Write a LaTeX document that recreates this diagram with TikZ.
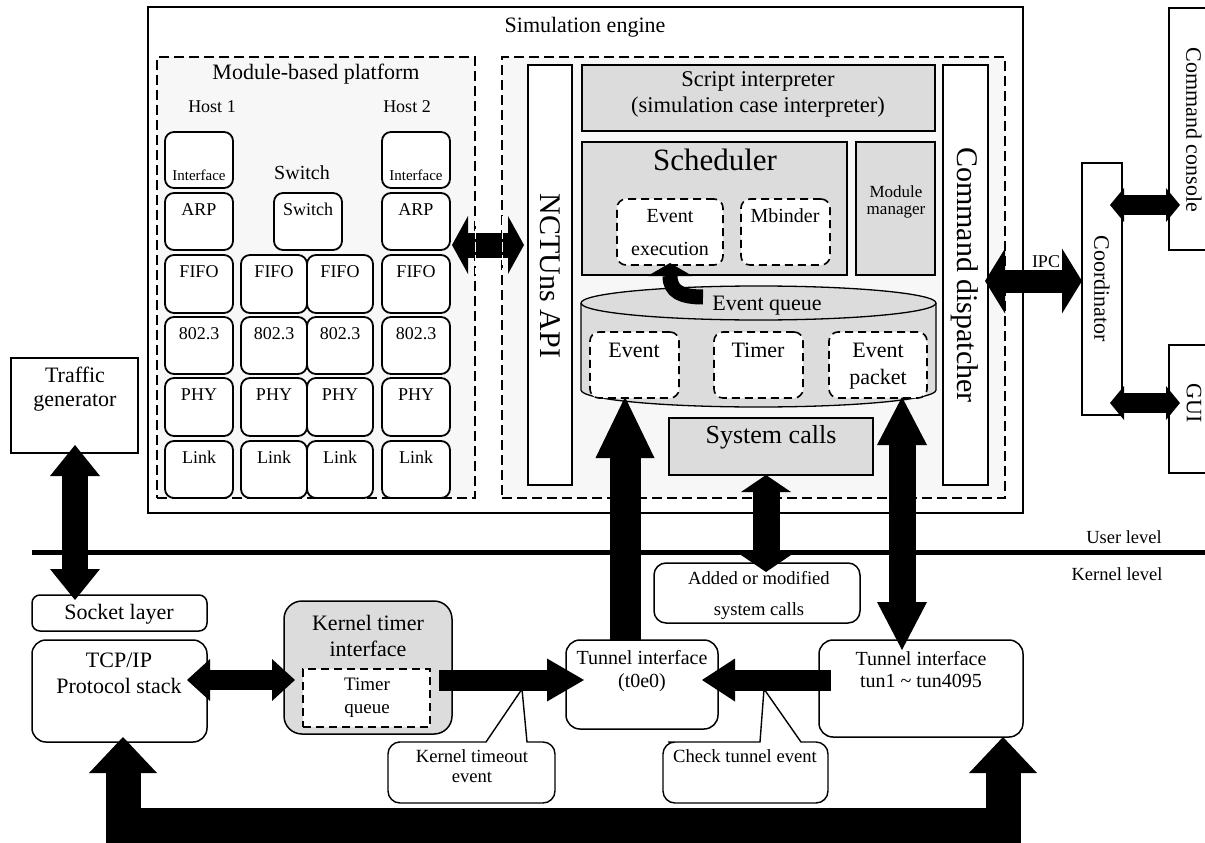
\documentclass[tikz,border=0pt]{standalone}
\usepackage{fontspec}
\setmainfont{Liberation Serif}
\usetikzlibrary{arrows.meta,fit,calc}
\definecolor{boxgray}{RGB}{220,220,220}
\definecolor{regiongray}{RGB}{247,247,247}
\newcommand\fz[2]{\fontsize{#1pt}{#2pt}\selectfont}
\newcommand\mkbox[6][]{\node[fit={(#3,#4) (#5,#6)}, inner sep=0pt, #1] (#2) {};}
\newcommand\mktext[5]{\node[txt, font=\fz{#4}{#4}] (#1) at (#2,#3) {#5};}
\tikzset{
  plain/.style={draw, line width=1.2pt},
  mbox/.style={draw, line width=1.8pt, rounded corners=9pt, fill=white},
  gbox/.style={draw, line width=1.3pt, fill=boxgray},
  dbox/.style={draw, line width=1.6pt, dash pattern=on 8pt off 5pt, rounded corners=9pt, fill=white},
  region/.style={draw, line width=1.5pt, dash pattern=on 10pt off 5pt, fill=regiongray},
  kbox/.style={draw, line width=1.5pt, rounded corners=14pt, fill=white},
  cshape/.style={draw, line width=1.4pt, fill=white},
  txt/.style={anchor=base, inner sep=0pt, align=center},
  vtxt/.style={rotate=-90, inner sep=0pt, anchor=center},
  fatarr/.style args={#1/#2/#3}{line width=#1, -{Triangle[width=#2,length=#3,line width=0pt]}},
  fatdbl/.style args={#1/#2/#3}{line width=#1, {Triangle[width=#2,length=#3,line width=0pt]}-{Triangle[width=#2,length=#3,line width=0pt]}},
}
\begin{document}
\begin{tikzpicture}[x=1pt,y=-1pt]
\useasboundingbox[fill=white] (0,0) rectangle (1205,843);

% ---------- Simulation engine ----------
\mkbox[plain, fill=white]{engine}{148}{7}{1023}{513}
\mktext{engine-t}{585}{33}{22}{Simulation engine}

% Module-based platform
\mkbox[region]{modplat}{157}{57}{475}{498}
\mktext{modplat-t}{316}{79}{22}{Module-based platform}
\mktext{host1}{212}{112}{18}{Host 1}
\mktext{host2}{407}{112}{18}{Host 2}
\mktext{switchlbl}{302}{179}{20}{Switch}
\mkbox[mbox]{h1if}{165}{132}{233}{188}
\mktext{h1if-t}{199}{180}{15}{Interface}
\mkbox[mbox]{h2if}{382}{132}{450}{188}
\mktext{h2if-t}{416}{180}{15}{Interface}
\mkbox[mbox]{h1arp}{165}{193}{233}{250}
\mktext{h1arp-t}{199}{215}{18}{ARP}
\mkbox[mbox]{sw}{274}{193}{342}{250}
\mktext{sw-t}{308}{215}{18}{Switch}
\mkbox[mbox]{h2arp}{382}{193}{450}{250}
\mktext{h2arp-t}{416}{215}{18}{ARP}
\foreach \r/\ya/\yb/\lab in {fifo/255/313/FIFO, eth/317/374/802.3, phy/378/436/PHY, link/441/498/Link} {
  \foreach \c/\xa/\xb in {1/165/233, 2/241/307, 3/307/373, 4/382/450} {
    \mkbox[mbox]{\r\c}{\xa}{\ya}{\xb}{\yb}
    \node[txt, font=\fz{18}{18}] (\r\c-t) at ({(\xa+\xb)/2},{\ya+22}) {\lab};
  }
}

% Engine core
\mkbox[region]{core}{502}{57}{1005}{498}
\mkbox[plain, fill=white]{nctuns}{528}{65}{572}{485}
\node[vtxt, font=\fz{30}{30}] (nctuns-t) at (550,276) {NCTUns API};
\mkbox[gbox]{script}{582}{65}{935}{131}
\mktext{script-t1}{758}{87}{22.5}{Script interpreter}
\mktext{script-t2}{758}{112}{22.5}{(simulation case interpreter)}
\mkbox[gbox]{sched}{582}{142}{847}{275}
\mktext{sched-t}{715}{170}{31}{Scheduler}
\mkbox[gbox]{modmgr}{856}{142}{935}{275}
\mktext{modmgr-t1}{896}{197}{17}{Module}
\mktext{modmgr-t2}{896}{214}{17}{manager}
\mkbox[plain, fill=white]{cmdd}{943}{65}{988}{485}
\node[vtxt, font=\fz{30}{30}] (cmdd-t) at (965,275) {Command dispatcher};
\mkbox[dbox]{evexec}{617}{199}{723}{265}
\mktext{evexec-t1}{670}{222}{20}{Event}
\mktext{evexec-t2}{670}{255}{20}{execution}
\mkbox[dbox]{mbinder}{741}{199}{830}{265}
\mktext{mbinder-t}{785}{222}{20}{Mbinder}

% Event queue cylinder
\path[draw, line width=1.3pt, fill=boxgray] (581,303) -- (581,390)
  arc[start angle=180, end angle=360, x radius=177.5pt, y radius=17pt] -- (936,303)
  arc[start angle=0, end angle=180, x radius=177.5pt, y radius=17pt] -- cycle;
\draw[line width=1.3pt] (581,303) arc[start angle=180, end angle=360, x radius=177.5pt, y radius=17pt];
\mktext{eq-t}{767}{310}{22}{Event queue}
\mkbox[dbox]{ev}{590}{332}{679}{398}
\mktext{ev-t}{634}{357}{22}{Event}
\mkbox[dbox]{timer}{714}{332}{803}{398}
\mktext{timer-t}{758}{357}{22}{Timer}
\mkbox[dbox]{evpkt}{829}{332}{927}{398}
\mktext{evpkt-t1}{878}{357}{22}{Event}
\mktext{evpkt-t2}{878}{384}{22}{packet}
\mkbox[gbox]{sysc}{669}{418}{873}{475}
\mktext{sysc-t}{771}{443}{26}{System calls}

% ---------- Right side ----------
\mkbox[plain, fill=white]{coord}{1082}{163}{1122}{415}
\node[vtxt, font=\fz{22}{22}] (coord-t) at (1102,289) {Coordinator};
\mkbox[plain]{cmdcon}{1169}{8}{1215}{250}
\node[vtxt, font=\fz{22}{22}] (cmdcon-t) at (1194,130) {Command console};
\mkbox[plain]{gui}{1169}{345}{1215}{473}
\node[vtxt, font=\fz{22}{22}] (gui-t) at (1194,403) {GUI};
\mktext{ipc-t}{1046}{267}{18}{IPC}

% ---------- Left / kernel ----------
\mkbox[plain]{traffic}{11}{358}{138}{453}
\mktext{traffic-t1}{75}{382}{22}{Traffic}
\mktext{traffic-t2}{75}{406}{22}{generator}

\coordinate (lvl-l) at (32,552);
\coordinate (lvl-r) at (1205,552);
\draw[line width=5pt] (lvl-l) -- (lvl-r);
\mktext{user-t}{1124}{543}{18.5}{User level}
\mktext{kern-t}{1117}{580}{18.5}{Kernel level}

\mkbox[kbox, rounded corners=8pt]{socket}{32}{595}{207}{631}
\mktext{socket-t}{119}{619}{22}{Socket layer}
\mkbox[kbox]{tcp}{32}{640}{207}{742}
\mktext{tcp-t1}{119}{667}{22}{TCP/IP}
\mktext{tcp-t2}{119}{693}{22}{Protocol stack}
\mkbox[kbox, fill=boxgray, rounded corners=18pt]{ktimer}{284}{601}{452}{734}
\mktext{kt-t1}{368}{630}{22}{Kernel timer}
\mktext{kt-t2}{368}{656}{22}{interface}
\mkbox[dbox, rounded corners=0pt]{timerq}{303}{669}{430}{727}
\mktext{tq-t1}{367}{690}{19}{Timer}
\mktext{tq-t2}{367}{713}{19}{queue}
\mkbox[kbox]{t0e0}{566}{640}{718}{729}
\mktext{t0-t1}{642}{664}{20}{Tunnel interface}
\mktext{t0-t2}{642}{687}{20}{(t0e0)}
\mkbox[kbox]{tun}{819}{640}{1023}{737}
\mktext{tun-t1}{921}{665}{20}{Tunnel interface}
\mktext{tun-t2}{921}{687}{20}{tun1 \textasciitilde{} tun4095}
\mkbox[kbox, rounded corners=12pt]{added}{654}{563}{860}{623}
\mktext{added-t1}{759}{584}{18.6}{Added or modified}
\mktext{added-t2}{759}{615}{18.6}{system calls}

% Callouts
\draw[cshape] (486,742) -- (522,689) -- (527,742) -- (540,742) [rounded corners=12pt]
  -- (555,742) -- (555,803) -- (388,803) -- (388,742) -- (410,742) [sharp corners] -- cycle;
\mktext{kto-t1}{472}{762}{18.6}{Kernel timeout}
\mktext{kto-t2}{472}{782}{18.6}{event}
\draw[cshape] (760,742) -- (764,689) -- (801,742) -- (812,742) [rounded corners=12pt]
  -- (828,742) -- (828,803) -- (663,803) -- (663,742) -- (680,742) [sharp corners] -- cycle;
\mktext{cte-t}{745}{762}{18.6}{Check tunnel event}

% ---------- Fat arrows ----------
\coordinate (a1l) at (452,245); \coordinate (a1r) at (524,245);
\draw[fatdbl=25pt/58pt/16pt] (a1l) -- (a1r);
\draw[white, line width=0.7pt, dash pattern=on 10pt off 3pt] (475,216) -- (475,274);
\draw[white, line width=0.7pt, dash pattern=on 10pt off 3pt] (502,216) -- (502,274);

\coordinate (ipc-l) at (985,281); \coordinate (ipc-r) at (1082,281);
\draw[fatdbl=23pt/65pt/20pt] (ipc-l) -- (ipc-r);
\coordinate (cc-l) at (1110,205); \coordinate (cc-r) at (1180,205);
\draw[fatdbl=20pt/34pt/14pt] (cc-l) -- (cc-r);
\coordinate (gu-l) at (1110,403); \coordinate (gu-r) at (1180,403);
\draw[fatdbl=20pt/34pt/14pt] (gu-l) -- (gu-r);

\coordinate (tg-t) at (75,445); \coordinate (tg-b) at (75,600);
\draw[fatdbl=26pt/50pt/31pt] (tg-t) -- (tg-b);
\coordinate (tk-l) at (187,680); \coordinate (tk-r) at (295,680);
\draw[fatdbl=20pt/42pt/23pt] (tk-l) -- (tk-r);
\coordinate (tq-s) at (439,680); \coordinate (tq-e) at (584,680);
\draw[fatarr=21pt/43pt/37pt] (tq-s) -- (tq-e);
\coordinate (tn-s) at (831,680); \coordinate (tn-e) at (702,680);
\draw[fatarr=21pt/43pt/33pt] (tn-s) -- (tn-e);
\coordinate (t0-s) at (625,640); \coordinate (t0-e) at (625,397);
\draw[fatarr=31pt/59pt/61pt] (t0-s) -- (t0-e);
\coordinate (ep-t) at (902,397); \coordinate (ep-b) at (902,650);
\draw[fatdbl=27pt/50pt/48pt] (ep-t) -- (ep-b);
\coordinate (sc-t) at (766,475); \coordinate (sc-b) at (766,572);
\draw[fatdbl=27pt/50pt/17pt] (sc-t) -- (sc-b);

\coordinate (u-r) at (1003,737); \coordinate (u-rc) at (1003,825.5);
\coordinate (u-lc) at (123,825.5); \coordinate (u-l) at (123,737);
\draw[fatdbl=35pt/68pt/36pt, line join=miter] (u-r) -- (u-rc) -- (u-lc) -- (u-l);

\coordinate (cq-s) at (703,297); \coordinate (cq-e) at (670,263);
\draw[line width=15pt, -{Triangle[width=45pt,length=13pt,line width=0pt]}] (cq-s) .. controls (682,297) and (670,292) .. (cq-e);
\end{tikzpicture}
\end{document}
